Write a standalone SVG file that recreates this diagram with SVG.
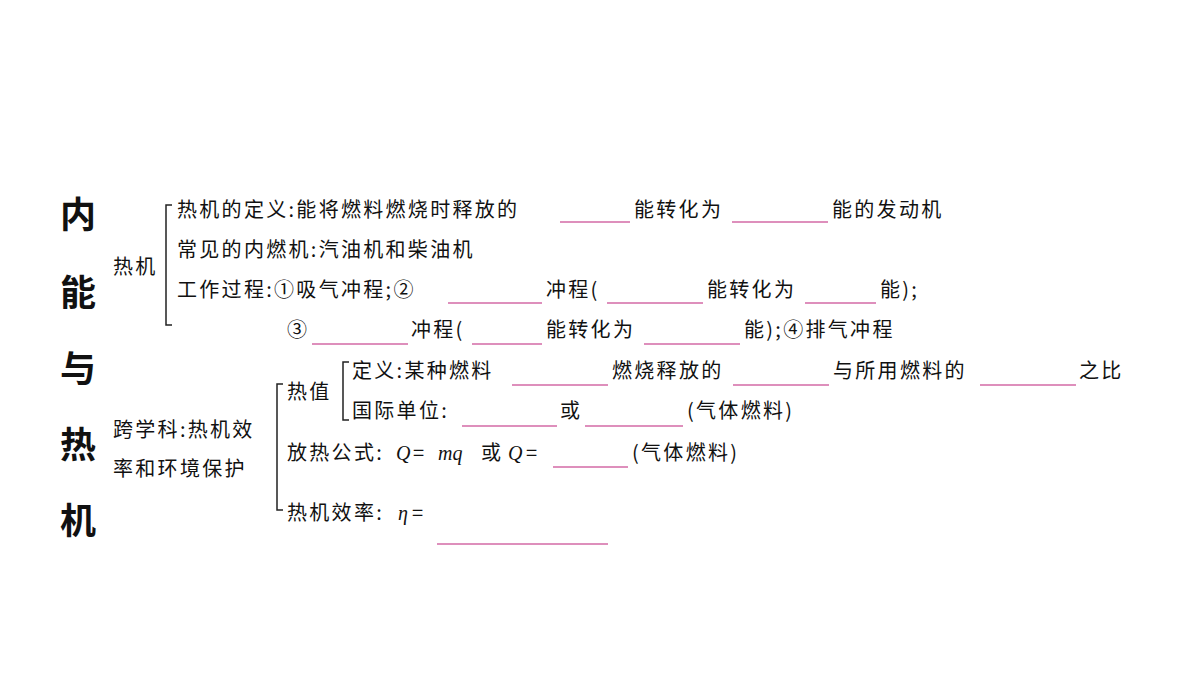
<svg xmlns="http://www.w3.org/2000/svg" width="1200" height="675" viewBox="0 0 1200 675">
<style>
text{font-family:"Noto Sans CJK SC","Liberation Sans",sans-serif;font-size:20px;letter-spacing:2.3px;fill:#111}
.t{font-size:36px;font-weight:bold;letter-spacing:0}
.m{font-family:"Liberation Serif",serif;font-style:italic;letter-spacing:0}
.b{stroke:#d36aa6;stroke-width:1.3}
.k{fill:none;stroke:#222;stroke-width:1.5}
</style>
<rect width="1200" height="675" fill="#fff"/>
<g id="title"><text class="t" x="60" y="228">内</text><text class="t" x="60" y="306">能</text><text class="t" x="60" y="382">与</text><text class="t" x="60" y="458">热</text><text class="t" x="60" y="534">机</text></g>
<g id="connectors">
<path class="k" d="M172,205 H166 V325 H172"/>
<path class="k" d="M283,384 H277 V510 H283"/>
<path class="k" d="M349,362 H343 V420 H349"/>
</g>
<g id="reje"><text x="113" y="274">热机</text></g>
<g id="line1"><text x="177" y="217">热机的定义:能将燃料燃烧时释放的</text><line class="b" x1="560" y1="222" x2="630" y2="222"/><text x="634" y="217">能转化为</text><line class="b" x1="732" y1="222" x2="828" y2="222"/><text x="832" y="217">能的发动机</text></g>
<g id="line2"><text x="177" y="257">常见的内燃机:汽油机和柴油机</text></g>
<g id="line3"><text x="177" y="297">工作过程:①吸气冲程;②</text><line class="b" x1="448" y1="303" x2="542" y2="303"/><text x="546" y="297">冲程(</text><line class="b" x1="607" y1="303" x2="703" y2="303"/><text x="707" y="297">能转化为</text><line class="b" x1="805" y1="303" x2="876" y2="303"/><text x="880" y="297">能);</text></g>
<g id="line4"><text x="287" y="337">③</text><line class="b" x1="312" y1="344" x2="408" y2="344"/><text x="411" y="337">冲程(</text><line class="b" x1="472" y1="344" x2="542" y2="344"/><text x="546" y="337">能转化为</text><line class="b" x1="644" y1="344" x2="740" y2="344"/><text x="744" y="337">能);④排气冲程</text></g>
<g id="kua"><text x="113" y="437">跨学科:热机效</text><text x="113" y="476">率和环境保护</text></g>
<g id="rezhi"><text x="287" y="399">热值</text></g>
<g id="line5"><text x="352" y="378">定义:某种燃料</text><line class="b" x1="512" y1="385" x2="608" y2="385"/><text x="612" y="378">燃烧释放的</text><line class="b" x1="733" y1="385" x2="829" y2="385"/><text x="833" y="378">与所用燃料的</text><line class="b" x1="980" y1="385" x2="1076" y2="385"/><text x="1079" y="378">之比</text></g>
<g id="line6"><text x="352" y="418">国际单位:</text><line class="b" x1="462" y1="426" x2="557" y2="426"/><text x="560" y="418">或</text><line class="b" x1="585" y1="426" x2="683" y2="426"/><text x="687" y="418">(气体燃料)</text></g>
<g id="line7"><text x="287" y="460">放热公式:</text><text class="m" x="396" y="460">Q</text><text x="413" y="460" style="letter-spacing:0">=</text><text class="m" x="438" y="460">mq</text><text x="481" y="460">或</text><text class="m" x="508" y="460">Q</text><text x="526" y="460" style="letter-spacing:0">=</text><line class="b" x1="553" y1="467" x2="628" y2="467"/><text x="632" y="460">(气体燃料)</text></g>
<g id="line8"><text x="287" y="520">热机效率:</text><text class="m" x="398" y="520">η</text><text x="412" y="520" style="letter-spacing:0">=</text><line class="b" x1="437" y1="544" x2="608" y2="544"/></g>
</svg>
